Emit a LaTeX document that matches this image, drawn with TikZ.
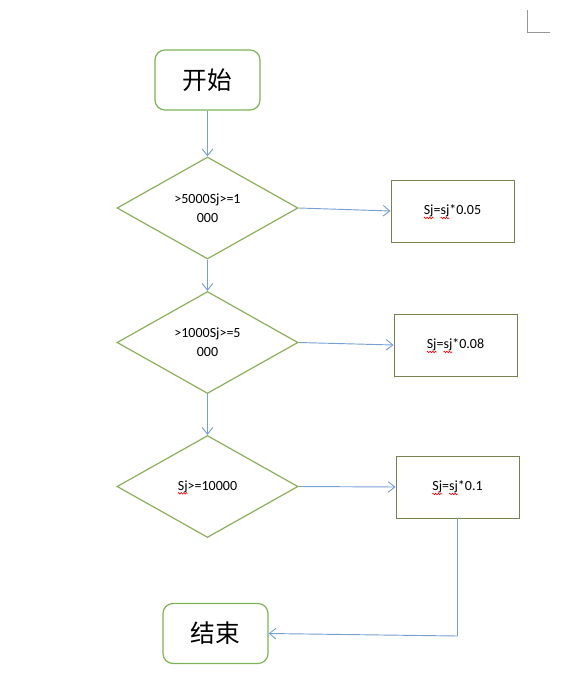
\documentclass[tikz,border=0pt]{standalone}
\usepackage{fontspec}
\setmainfont{Carlito}
\newfontfamily\cjk{Noto Sans CJK SC}
\usetikzlibrary{shapes.geometric,arrows.meta,decorations.pathmorphing}
\newcommand{\redwave}[1]{\setbox0=\hbox{#1}\rlap{\tikz[overlay,baseline=0pt]\draw[red,line width=0.45pt,decorate,decoration={zigzag,segment length=2pt,amplitude=0.6pt}] (0pt,-2.4pt) -- (\the\wd0,-2.4pt);}\box0}
\definecolor{termgreen}{RGB}{125,180,85}
\definecolor{diagreen}{RGB}{140,175,90}
\definecolor{boxolive}{RGB}{115,130,80}
\definecolor{arrowblue}{RGB}{120,160,210}
\definecolor{markgray}{RGB}{150,150,150}
\tikzset{
  term/.style={draw=termgreen, line width=0.9pt, rounded corners=7.5pt,
    minimum width=78.75pt, minimum height=45pt, inner sep=0pt,
    font=\cjk\fontsize{18.5}{22}\selectfont},
  cond/.style={draw=diagreen, line width=0.9pt, diamond, shape aspect=1.78,
    minimum width=135.75pt, minimum height=76.5pt, inner sep=0pt,
    align=center, font=\fontsize{10.5}{14.5}\selectfont},
  calc/.style={draw=boxolive, line width=0.7pt,
    minimum width=92.25pt, minimum height=46.5pt, inner sep=0pt,
    font=\fontsize{10.5}{13}\selectfont},
  flow/.style={draw=arrowblue, line width=0.7pt,
    -{Straight Barb[length=5pt,width=8pt,line width=0.7pt]}},
  plain/.style={draw=arrowblue, line width=0.7pt}
}
\begin{document}
\begin{tikzpicture}[x=0.75pt,y=-0.75pt]
\useasboundingbox (0,0) rectangle (568,698);
% page corner mark
\coordinate (m1) at (527,10);
\coordinate (m2) at (527,32);
\coordinate (m3) at (550,32);
\draw[markgray, line width=0.6pt] (m1) -- (m2) -- (m3);

\node[term] (start) at (207.5,80) {开始};
\node[cond] (d1) at (207.5,208) {>5000Sj>=1\\000};
\node[calc] (b1) at (452.5,211) {\redwave{Sj}=\redwave{sj}*0.05};
\node[cond] (d2) at (207.5,342.5) {>1000Sj>=5\\000};
\node[calc] (b2) at (455.5,345) {\redwave{Sj}=\redwave{sj}*0.08};
\node[cond] (d3) at (207.5,486.5) {\redwave{Sj}>=10000};
\node[calc] (b3) at (457.5,487) {\redwave{Sj}=\redwave{sj}*0.1};
\node[term] (end) at (215.5,633.5) {结束};

\coordinate (c1) at (457.5,636);

\draw[flow] (start) -- (d1);
\draw[flow] (d1) -- (d2);
\draw[flow] (d2) -- (d3);
\draw[flow] (d1.east) -- (b1.west);
\draw[flow] (d2.east) -- (b2.west);
\draw[flow] (d3.east) -- (b3.west);
\draw[plain] (b3.south) -- (c1);
\draw[flow] (c1) -- (end.east);
\end{tikzpicture}
\end{document}
